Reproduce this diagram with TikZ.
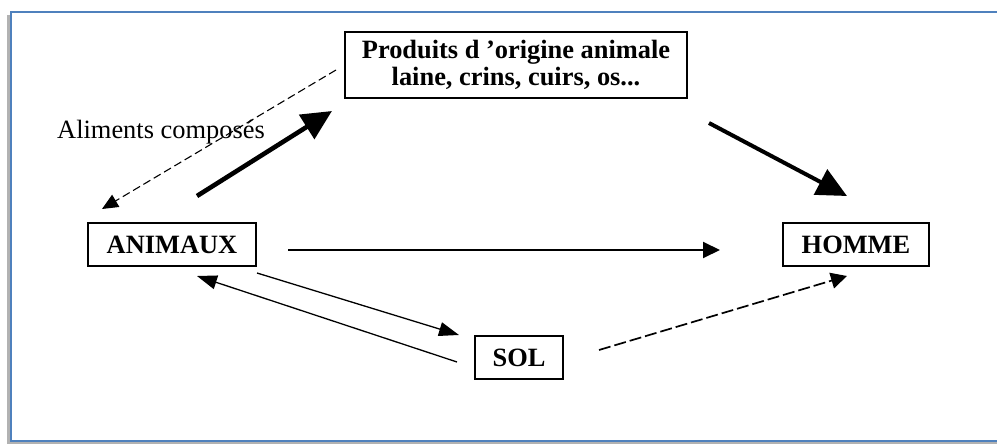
\documentclass[tikz,border=0pt]{standalone}
\usepackage{fontspec}
\setmainfont{Liberation Serif}
\usepackage{tikz}
\usetikzlibrary{arrows.meta}
\definecolor{cadre}{RGB}{79,129,189}
\tikzset{
    boite/.style={draw, line width=1pt, minimum height=21.5pt, inner sep=2pt,
        font=\fontsize{13.2}{13.5}\selectfont\bfseries, align=center},
    grosse/.style={line width=2.3pt, -{Triangle[length=15pt,width=14pt]}},
    moyenne/.style={line width=1pt, -{Triangle[length=8.5pt,width=8pt]}},
    fine/.style={line width=0.65pt, -{Triangle[length=10pt,width=7pt]}},
    tirets/.style={line width=0.85pt, dash pattern=on 6pt off 2pt, -{Triangle[length=8pt,width=8pt]}},
    pointilles/.style={line width=0.55pt, dash pattern=on 4pt off 2pt, -{Triangle[length=8pt,width=7pt]}},
}

\begin{document}
\begin{tikzpicture}[x=0.5pt,y=-0.5pt]
\useasboundingbox (0,0) rectangle (997,444);
\draw[gray!60, line width=1.5pt] (8,15)--(8,443)--(1000,443);
\draw[cadre, line width=0.8pt] (11,12) rectangle (1004,441);

\node[boite, minimum width=171pt, minimum height=33pt] (produits) at (516,65)
    {Produits d 'origine animale\\laine, crins, cuirs, os...};
\node[boite, minimum width=84pt] (animaux) at (172,244.5) {ANIMAUX};
\node[boite, minimum width=73pt] (homme) at (856,244.5) {HOMME};
\node[boite, minimum width=44pt] (sol) at (519,357.5) {SOL};
\node[font=\fontsize{13.2}{13.5}\selectfont] (aliments) at (161,132) {Aliments composés};

\draw[pointilles] ([shift={(-8,5)}]produits.west) -- ([shift={(15,-13)}]animaux.north west);
\draw[grosse] ([shift={(25,-26)}]animaux.north) -- ([shift={(-12,12)}]produits.south west);
\draw[grosse, line width=2pt] ([shift={(21,24)}]produits.south east) -- ([shift={(-9,-26)}]homme.north);
\draw[moyenne] ([shift={(31,5.5)}]animaux.east) -- ([shift={(-62,5.5)}]homme.west);
\draw[fine] ([shift={(0,6)}]animaux.south east) -- ([shift={(-15,0)}]sol.north west);
\draw[fine] ([shift={(-17,4.5)}]sol.west) -- ([shift={(25,9)}]animaux.south);
\draw[tirets] ([shift={(35,-7.5)}]sol.east) -- ([shift={(-9,9)}]homme.south);
\end{tikzpicture}
\end{document}
